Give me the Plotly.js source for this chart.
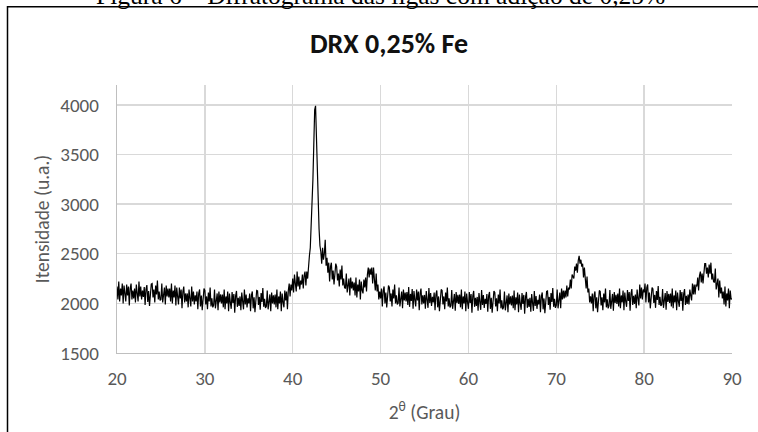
<!DOCTYPE html>
<html>
<head>
<meta charset="utf-8">
<script src="https://cdn.plot.ly/plotly-3.0.1.min.js"></script>
<style>
  html, body { margin: 0; padding: 0; background: #ffffff; }
  #chart { width: 758px; height: 432px; }
</style>
</head>
<body>
<div id="chart"></div>
<script>
// Diffractogram: intensity read every 0.1 degree (2θ) from 20.0 to 90.0
const angleStart = 20;
const angleStep = 0.1;
const intensity = [
  2170,2040,2220,2020,2150,2080,2200,2000,2180,2090,
  2020,2190,2080,2170,1980,2150,2200,2040,2130,2050,
  2150,2010,2190,2100,2020,2220,2070,2170,2040,2130,
  2065,2165,1985,2145,2185,2015,2125,1975,2155,2195,
  2200,2060,2140,2010,2180,2090,2230,2040,2120,2030,
  2040,2200,2010,2120,2160,1990,2180,2070,2150,2060,
  2150,2020,2200,2000,2130,2060,2180,1980,2160,2070,
  1990,2160,2050,2140,1950,2120,2170,2010,2100,2020,
  2100,1960,2140,2050,1970,2170,2020,2120,1990,2080,
  2020,2120,1940,2100,2140,1970,2080,1930,2110,2150,
  2130,1990,2070,1940,2110,2020,2160,1970,2050,1960,
  1980,2140,1950,2060,2100,1930,2120,2010,2090,2000,
  2090,1960,2140,1940,2070,2000,2120,1920,2100,2010,
  1945,2115,2005,2095,1905,2075,2125,1965,2055,1975,
  2070,1930,2110,2020,1940,2140,1990,2090,1960,2050,
  2000,2100,1920,2080,2120,1950,2060,1910,2090,2130,
  2125,1985,2065,1935,2105,2015,2155,1965,2045,1955,
  1970,2130,1940,2050,2090,1920,2110,2000,2080,1990,
  2090,1960,2140,1940,2070,2000,2120,1920,2100,2010,
  1960,2130,2030,2120,1940,2130,2200,2070,2190,2130,
  2250,2110,2290,2200,2120,2320,2170,2270,2140,2230,
  2190,2290,2150,2280,2320,2180,2320,2250,2430,2480,
  2560,2750,3000,3250,3600,3950,3990,3600,3250,3000,
  2750,2580,2520,2400,2560,2440,2500,2640,2380,2460,
  2310,2410,2220,2370,2410,2240,2330,2190,2360,2400,
  2370,2230,2300,2170,2340,2240,2380,2180,2250,2160,
  2150,2300,2110,2220,2250,2080,2260,2150,2220,2130,
  2210,2080,2260,2060,2190,2120,2240,2040,2220,2130,
  2100,2240,2160,2260,2120,2290,2360,2260,2350,2290,
  2360,2200,2360,2240,2130,2300,2120,2190,2040,2120,
  2050,2150,1970,2130,2170,2000,2110,1960,2140,2180,
  2160,2020,2100,1970,2140,2050,2190,2000,2080,1990,
  2000,2160,1970,2080,2120,1950,2140,2030,2110,2020,
  2115,1985,2165,1965,2095,2025,2145,1945,2125,2035,
  1970,2140,2030,2120,1930,2100,2150,1990,2080,2000,
  2085,1945,2125,2035,1955,2155,2005,2105,1975,2065,
  2010,2110,1930,2090,2130,1960,2070,1920,2100,2140,
  2130,1990,2070,1940,2110,2020,2160,1970,2050,1960,
  1975,2135,1945,2055,2095,1925,2115,2005,2085,1995,
  2090,1960,2140,1940,2070,2000,2120,1920,2100,2010,
  1945,2115,2005,2095,1905,2075,2125,1965,2055,1975,
  2065,1925,2105,2015,1935,2135,1985,2085,1955,2045,
  1995,2095,1915,2075,2115,1945,2055,1905,2085,2125,
  2110,1970,2050,1920,2090,2000,2140,1950,2030,1940,
  1960,2120,1930,2040,2080,1910,2100,1990,2070,1980,
  2080,1950,2130,1930,2060,1990,2110,1910,2090,2000,
  1935,2105,1995,2085,1895,2065,2115,1955,2045,1965,
  2055,1915,2095,2005,1925,2125,1975,2075,1945,2035,
  1990,2090,1910,2070,2110,1940,2050,1900,2080,2120,
  2125,1985,2065,1935,2105,2015,2155,1965,2045,1955,
  1980,2140,1950,2070,2110,1950,2150,2040,2130,2050,
  2130,2060,2180,2070,2160,2140,2240,2150,2290,2270,
  2250,2370,2330,2400,2310,2430,2480,2400,2440,2370,
  2400,2260,2360,2250,2150,2270,2110,2150,2010,2070,
  2000,2100,1920,2080,2120,1950,2060,1910,2090,2130,
  2120,1980,2060,1930,2100,2010,2150,1960,2040,1950,
  1975,2135,1945,2055,2095,1925,2115,2005,2085,1995,
  2100,1970,2150,1950,2080,2010,2130,1930,2110,2020,
  1965,2135,2025,2115,1925,2095,2145,1985,2075,1995,
  2090,1950,2140,2050,1980,2190,2050,2160,2040,2140,
  2110,2200,2010,2160,2190,2010,2110,1950,2130,2160,
  2145,2005,2085,1955,2125,2035,2175,1985,2065,1975,
  1985,2145,1955,2065,2105,1935,2125,2015,2095,2005,
  2100,1970,2150,1950,2080,2010,2130,1930,2110,2020,
  1965,2135,2025,2115,1925,2095,2145,1985,2075,1995,
  2090,1990,2140,2080,2030,2200,2090,2190,2090,2190,
  2170,2260,2130,2280,2320,2210,2300,2200,2360,2400,
  2400,2300,2360,2260,2390,2300,2410,2240,2300,2220,
  2210,2350,2140,2230,2250,2060,2230,2100,2160,2050,
  2120,1990,2170,1970,2100,2030,2150,1950,2130,2040,
  2050
];

const xTickValues = [20, 30, 40, 50, 60, 70, 80, 90];
const yTickValues = [1500, 2000, 2500, 3000, 3500, 4000];

const chartTitle = "DRX 0,25% Fe";
const figureCaption = "Figura 6 – Difratograma das ligas com adição de 0,25%";
const xTitle = "2<sup>θ</sup> (Grau)";
const yTitle = "Itensidade (u.a.)";

const uiFont = "Carlito, Lato, 'Open Sans', sans-serif";

const trace = {
  type: "scatter",
  mode: "lines",
  x0: angleStart,
  dx: angleStep,
  y: intensity,
  line: { color: "#000000", width: 1.2 },
  hoverinfo: "x+y",
  showlegend: false
};

const layout = {
  width: 758,
  height: 432,
  margin: { l: 117, r: 26, t: 85, b: 79 },
  paper_bgcolor: "#ffffff",
  plot_bgcolor: "#ffffff",
  font: { family: uiFont, color: "#595959", size: 19 },
  title: {
    text: "<b>" + chartTitle + "</b>",
    font: { family: uiFont, size: 28, color: "#111111" },
    xref: "container", yref: "container",
    x: 389 / 758, y: 1 - 43 / 432,
    xanchor: "center", yanchor: "middle"
  },
  xaxis: {
    range: [20, 90],
    tickmode: "array",
    tickvals: xTickValues,
    ticktext: xTickValues.map(String),
    showgrid: true,
    gridcolor: "#d9d9d9",
    gridwidth: 1.3,
    showline: true,
    linecolor: "#bfbfbf",
    linewidth: 1.3,
    zeroline: false,
    ticks: "",
    ticklabelstandoff: 8,
    tickfont: { family: uiFont, size: 19, color: "#595959" },
    title: { text: xTitle, font: { family: uiFont, size: 19.5, color: "#595959" }, standoff: 16 }
  },
  yaxis: {
    range: [1500, 4200],
    tickmode: "array",
    tickvals: yTickValues,
    ticktext: yTickValues.map(String),
    showgrid: true,
    gridcolor: "#d9d9d9",
    gridwidth: 1.3,
    showline: true,
    linecolor: "#bfbfbf",
    linewidth: 1.3,
    zeroline: false,
    ticks: "",
    ticklabelstandoff: 13,
    tickfont: { family: uiFont, size: 19, color: "#595959" },
    title: { text: yTitle, font: { family: uiFont, size: 19.5, color: "#595959" }, standoff: 5 }
  },
  shapes: [{
    type: "rect",
    xref: "paper", yref: "paper",
    x0: (7.5 - 117) / 615, x1: (775 - 117) / 615,
    y0: (353 - 450) / 268, y1: (353 - 6.7) / 268,
    line: { color: "#000000", width: 1.5 },
    fillcolor: "rgba(0,0,0,0)",
    layer: "below"
  }],
  annotations: [{
    text: figureCaption,
    xref: "paper", yref: "paper",
    x: (380 - 117) / 615, y: (353 + 4.5) / 268,
    xanchor: "center", yanchor: "middle",
    showarrow: false,
    font: { family: "'Liberation Serif', 'Times New Roman', serif", size: 25.5, color: "#000000" }
  }]
};

Plotly.newPlot("chart", [trace], layout, { displayModeBar: false, staticPlot: true });
</script>
</body>
</html>
